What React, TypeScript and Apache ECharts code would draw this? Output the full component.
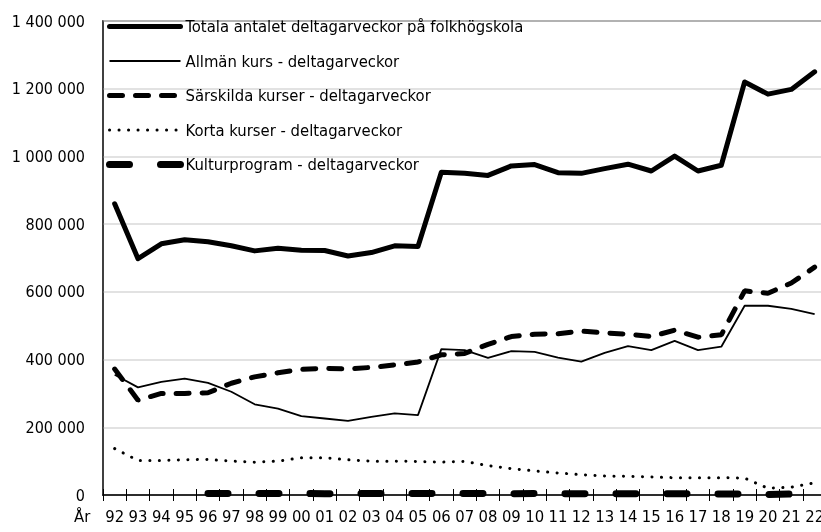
import React, { useEffect, useRef } from "react";
import * as echarts from "echarts";

const years = ["92","93","94","95","96","97","98","99","00","01","02","03","04","05","06","07","08","09","10","11","12","13","14","15","16","17","18","19","20","21","22"];

const totala = [860000, 698000, 742000, 754000, 748000, 736000, 721000, 729000, 723000, 722000, 706000, 716000, 736000, 734000, 953000, 950000, 944000, 972000, 976000, 952000, 950000, 964000, 977000, 957000, 1001000, 957000, 974000, 1220000, 1184000, 1198000, 1250000];

const allman = [355000, 318000, 334000, 344000, 331000, 305000, 268000, 255000, 233000, 226000, 219000, 231000, 241000, 236000, 431000, 428000, 405000, 425000, 423000, 406000, 394000, 420000, 440000, 428000, 455000, 428000, 438000, 559000, 559000, 550000, 534000];

const sarskilda = [372000, 280000, 300000, 300000, 302000, 330000, 349000, 361000, 371000, 374000, 372000, 377000, 384000, 393000, 414000, 418000, 445000, 468000, 475000, 476000, 484000, 479000, 475000, 468000, 487000, 466000, 473000, 603000, 596000, 626000, 673000];

const korta = [137000, 102000, 102000, 104000, 105000, 100000, 97000, 100000, 110000, 110000, 104000, 100000, 100000, 99000, 97000, 99000, 87000, 78000, 71000, 65000, 60000, 56000, 55000, 53000, 51000, 51000, 51000, 50000, 20000, 23000, 36000];

const kultur = [null, null, null, null, 4500, 4300, 4200, 4400, 4100, 4000, 3900, 4200, 4100, 4300, 4500, 4400, 4200, 4000, 4100, 3900, 3800, 3700, 3600, 3500, 3400, 3300, 3200, 3100, 1500, 2800, 3000];

const seriesNames = [
  "Totala antalet deltagarveckor på folkhögskola",
  "Allmän kurs - deltagarveckor",
  "Särskilda kurser - deltagarveckor",
  "Korta kurser - deltagarveckor",
  "Kulturprogram - deltagarveckor",
];

const FONT = '"DejaVu Sans Condensed", "Liberation Sans Narrow", sans-serif';

const styles: any[] = [
  { color: "#000", width: 5, type: "solid", cap: "round", join: "round" },
  { color: "#000", width: 1.8, type: "solid" },
  { color: "#000", width: 5, type: [13, 13], cap: "round" },
  { color: "#000", width: 3, type: [0.1, 9.4], cap: "round" },
  { color: "#000", width: 7, type: [20, 31], cap: "round" },
];

const dataSets = [totala, allman, sarskilda, korta, kultur];

export default function App() {
  const ref = useRef<HTMLDivElement>(null);
  useEffect(() => {
    if (!ref.current) return;
    const chart = echarts.init(ref.current, null, { renderer: "svg" });
    const fmt = (v: number) => String(v).replace(/\B(?=(\d{3})+(?!\d))/g, " ");
    chart.setOption({
      animation: false,
      textStyle: { fontFamily: FONT, color: "#000" },
      grid: {
        left: 103,
        top: 21,
        width: 723.3,
        height: 474,
        outerBoundsMode: "none",
        containLabel: false,
        show: true,
        borderColor: "#000",
        borderWidth: 1.5,
        backgroundColor: "transparent",
      },
      legend: {
        left: 101,
        top: 13,
        orient: "vertical",
        itemWidth: 71,
        itemHeight: 14,
        itemGap: 17.5,
        itemStyle: { color: "transparent", borderWidth: 0, opacity: 0 },
        textStyle: { fontFamily: FONT, fontSize: 16.5, color: "#000" },
        data: seriesNames.map((n, i) => ({ name: n, lineStyle: styles[i] })),
      },
      xAxis: [
        {
          type: "category",
          data: years,
          position: "bottom",
          boundaryGap: true,
          axisLine: { show: true, lineStyle: { color: "#000", width: 1.5 } },
          axisTick: { show: true, interval: 0, length: 6, lineStyle: { color: "#000" } },
          axisLabel: { interval: 0, fontFamily: FONT, fontSize: 16.5, color: "#000", margin: 13 },
          splitLine: { show: false },
        },
        {
          type: "category",
          data: years,
          position: "bottom",
          boundaryGap: true,
          axisLine: { show: false },
          axisTick: { show: true, interval: 0, inside: true, length: 6, lineStyle: { color: "#000" } },
          axisLabel: { show: false },
          splitLine: { show: false },
        },
      ],
      yAxis: {
        type: "value",
        min: 0,
        max: 1400000,
        interval: 200000,
        axisLine: { show: true, lineStyle: { color: "#404040", width: 1.5 } },
        axisTick: { show: false },
        axisLabel: { fontFamily: FONT, fontSize: 16, color: "#000", margin: 18, formatter: fmt },
        splitLine: { show: true, lineStyle: { color: "#d9d9d9", width: 1.5 } },
      },
      graphic: [
        {
          type: "text",
          left: 74,
          top: 508,
          style: { text: "År", font: `16.5px ${FONT}`, fill: "#000" },
        },
      ],
      series: dataSets.map((d, i) => ({
        name: seriesNames[i],
        type: "line",
        data: d,
        symbol: "none",
        showSymbol: false,
        connectNulls: false,
        lineStyle: styles[i],
        itemStyle: { color: "#000" },
        z: 10 - i,
      })),
    });
    return () => chart.dispose();
  }, []);
  return <div ref={ref} style={{ position: "fixed", left: 0, top: 0, width: 821, height: 532 }} />;
}
